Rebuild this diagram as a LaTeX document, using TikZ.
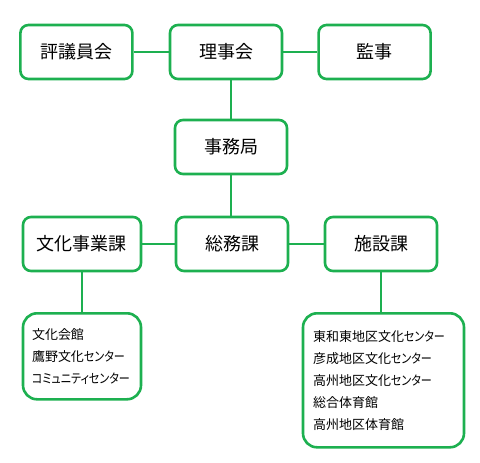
\documentclass[tikz,border=0pt]{standalone}
\usepackage{fontspec}
\setmainfont[RawFeature=+palt]{Noto Sans CJK JP}
\newfontfamily\kanafont[FakeStretch=0.85, RawFeature=+palt]{Noto Sans CJK JP}
\newcommand\kana[1]{{\kanafont #1}}
\usetikzlibrary{positioning}
\definecolor{boxGreen}{HTML}{1DB050}

\begin{document}
\begin{tikzpicture}[
  x=1pt, y=-1pt,
  node distance=42pt and 35pt,
  unit/.style={
    rectangle,
    draw=boxGreen,
    fill=white,
    rounded corners=8pt,
    line width=2.6pt,
    minimum width=112pt,
    minimum height=54pt,
    inner sep=0pt,
    font=\fontsize{18}{22}\selectfont
  },
  facility/.style={
    rectangle,
    draw=boxGreen,
    fill=white,
    rounded corners=14pt,
    line width=2.6pt,
    align=left,
    inner xsep=9pt,
    inner ysep=0pt,
    font=\fontsize{13}{22}\selectfont
  },
  link/.style={
    draw=boxGreen,
    line width=2pt
  }
]
  \useasboundingbox (0,0) rectangle (480,463);

  % Define nodes
  \node[unit] (Rijikai) at (226,52) {理事会};
  \node[unit] (Hyogiinkai) [left=of Rijikai] {評議員会};
  \node[unit] (Kanji) [right=34pt of Rijikai] {監事};
  \node[unit] (Jimukyoku) at (231,147) {事務局};
  \node[unit] (Somuka) at (232,244) {総務課};
  \node[unit, minimum width=118pt] (Bunkaka) at (82,244) {文化事業課};
  \node[unit] (Shisetsuka) at (381,244) {施設課};
  \node[facility, text width=100pt, minimum height=86pt, anchor=north]
    (BunkaList) at (82,312) {文化会館\\鷹野文化\kana{センター}\\\kana{コミュニティセンター}};
  \node[facility, text width=141pt, inner xsep=10pt, minimum height=134pt, anchor=north]
    (ShisetsuList) at (383.5,312) {東和東地区文化\kana{センター}\\彦成地区文化\kana{センター}\\高州地区文化\kana{センター}\\総合体育館\\高州地区体育館};

  % Connect nodes with lines
  \draw[link] (Hyogiinkai.east) -- (Rijikai.west);
  \draw[link] (Rijikai.east) -- (Kanji.west);
  \draw[link] (Jimukyoku.north) -- (Jimukyoku.north |- Rijikai.south);
  \draw[link] (Jimukyoku.south) -- (Jimukyoku.south |- Somuka.north);
  \draw[link] (Bunkaka.east) -- (Somuka.west);
  \draw[link] (Somuka.east) -- (Shisetsuka.west);
  \draw[link] (Bunkaka.south) -- (BunkaList.north);
  \draw[link] (Shisetsuka.south) -- (Shisetsuka.south |- ShisetsuList.north);
\end{tikzpicture}
\end{document}
